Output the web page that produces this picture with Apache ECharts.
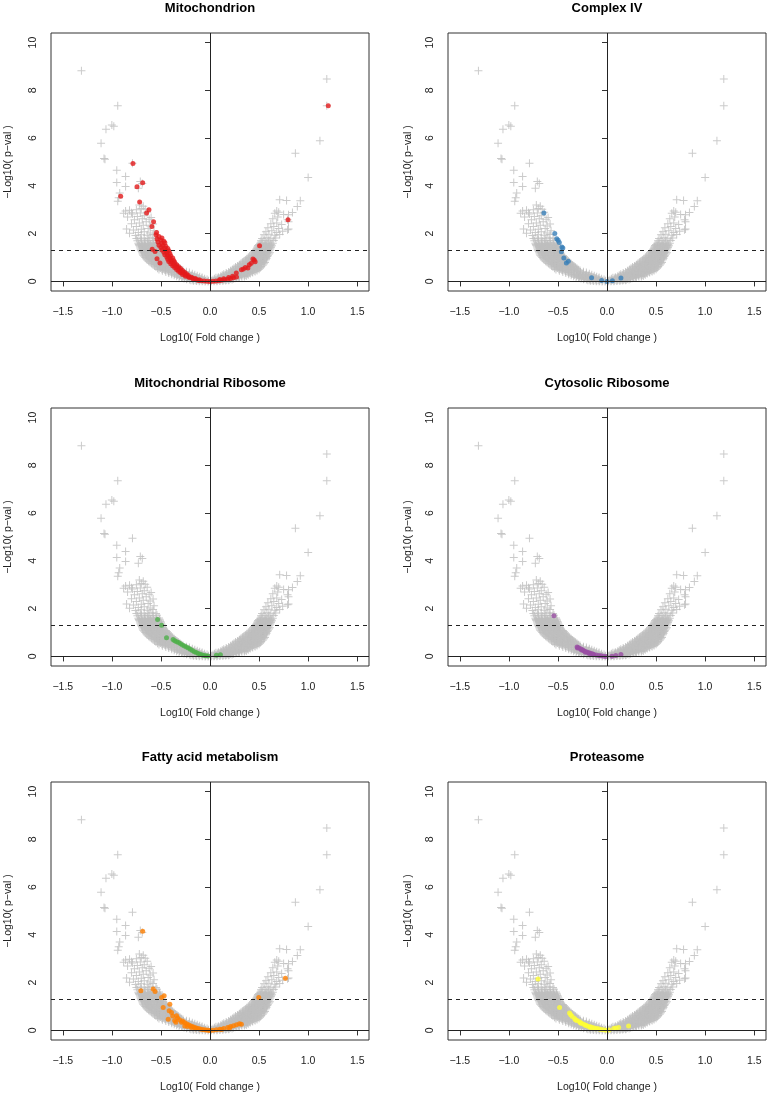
<!DOCTYPE html>
<html><head><meta charset="utf-8">
<script src="https://cdn.jsdelivr.net/npm/echarts@6/dist/echarts.min.js"></script>
<style>html,body{margin:0;padding:0;background:#fff}#c{width:770px;height:1094px}</style>
</head><body><div id="c"></div>
<script>
// ---------------- DATA ----------------
const panelTitles = ['Mitochondrion', 'Complex IV', 'Mitochondrial Ribosome', 'Cytosolic Ribosome', 'Fatty acid metabolism', 'Proteasome'];
const highlightColors = ['#E41A1C', '#377EB8', '#4DAF4A', '#984EA3', '#FF7F00', '#FFFF33'];
const xTicks = [-1.5, -1, -0.5, 0, 0.5, 1, 1.5];
const yTicks = [0, 2, 4, 6, 8, 10];
const pThreshold = 1.3;
const xLabel = 'Log10( Fold change )';
const yLabel = '\u2212Log10( p\u2212val )';

// all proteins (grey crosses), identical in every panel: dense band
const grayBand = [
[-0.17,0.03],[-0.14,0.02],[-0.11,0.01],[-0.08,0.01],[-0.05,0.00],[-0.02,0.00],[0.01,0.00],[0.04,0.01],[0.07,0.01],[0.10,0.02],[0.13,0.03],[0.16,0.04],[0.19,0.05],
[-0.24,0.09],[-0.21,0.08],[-0.18,0.08],[-0.15,0.07],[-0.12,0.07],[-0.09,0.06],[-0.06,0.07],[-0.03,0.08],[0.03,0.07],[0.06,0.06],[0.09,0.07],[0.12,0.08],[0.15,0.08],[0.18,0.09],[0.21,0.10],[0.24,0.11],
[-0.29,0.15],[-0.26,0.14],[-0.23,0.15],[-0.20,0.14],[-0.17,0.15],[-0.14,0.14],[-0.11,0.15],[-0.08,0.16],[0.06,0.15],[0.09,0.14],[0.12,0.15],[0.15,0.14],[0.18,0.15],[0.21,0.16],[0.24,0.15],[0.27,0.17],[0.30,0.18],
[-0.34,0.22],[-0.31,0.23],[-0.28,0.21],[-0.25,0.23],[-0.22,0.22],[-0.19,0.23],[-0.16,0.22],[-0.13,0.24],[0.11,0.22],[0.14,0.23],[0.17,0.21],[0.20,0.23],[0.23,0.22],[0.26,0.23],[0.29,0.22],[0.32,0.24],[0.35,0.25],[0.37,0.23],
[-0.39,0.30],[-0.36,0.31],[-0.33,0.29],[-0.30,0.31],[-0.27,0.30],[-0.24,0.31],[-0.21,0.30],[-0.18,0.32],[0.14,0.30],[0.17,0.31],[0.20,0.29],[0.23,0.31],[0.26,0.30],[0.29,0.31],[0.32,0.30],[0.35,0.32],[0.38,0.31],[0.41,0.33],
[-0.45,0.40],[-0.42,0.41],[-0.39,0.39],[-0.36,0.41],[-0.33,0.40],[-0.30,0.42],[-0.27,0.40],[-0.24,0.41],[0.19,0.40],[0.22,0.41],[0.25,0.39],[0.28,0.41],[0.31,0.40],[0.34,0.42],[0.37,0.40],[0.40,0.41],[0.43,0.40],[0.46,0.42],
[-0.52,0.50],[-0.49,0.51],[-0.46,0.49],[-0.43,0.51],[-0.40,0.50],[-0.37,0.52],[-0.34,0.50],[-0.31,0.51],[-0.29,0.49],[0.23,0.50],[0.26,0.51],[0.29,0.49],[0.32,0.51],[0.35,0.50],[0.38,0.52],[0.41,0.50],[0.44,0.51],[0.47,0.49],[0.50,0.51],
[-0.55,0.60],[-0.52,0.61],[-0.49,0.59],[-0.46,0.61],[-0.43,0.60],[-0.40,0.62],[-0.37,0.60],[-0.34,0.61],[-0.32,0.59],[0.26,0.60],[0.29,0.61],[0.32,0.59],[0.35,0.61],[0.38,0.60],[0.41,0.62],[0.44,0.60],[0.47,0.61],[0.50,0.59],[0.52,0.61],
[-0.58,0.70],[-0.55,0.71],[-0.52,0.69],[-0.49,0.71],[-0.46,0.70],[-0.43,0.72],[-0.40,0.70],[-0.37,0.71],[-0.35,0.69],[0.30,0.70],[0.33,0.71],[0.36,0.69],[0.39,0.71],[0.42,0.70],[0.45,0.72],[0.48,0.70],[0.51,0.71],[0.54,0.69],
[-0.61,0.80],[-0.58,0.81],[-0.55,0.79],[-0.52,0.81],[-0.49,0.80],[-0.46,0.82],[-0.43,0.80],[-0.40,0.81],[-0.38,0.79],[0.33,0.80],[0.36,0.81],[0.39,0.79],[0.42,0.81],[0.45,0.80],[0.48,0.82],[0.51,0.80],[0.54,0.81],[0.56,0.79],
[-0.64,0.90],[-0.61,0.91],[-0.58,0.89],[-0.55,0.91],[-0.52,0.90],[-0.49,0.92],[-0.46,0.90],[-0.43,0.91],[-0.41,0.89],[0.36,0.90],[0.39,0.91],[0.42,0.89],[0.45,0.91],[0.48,0.90],[0.51,0.92],[0.54,0.90],[0.57,0.91],
[-0.66,1.00],[-0.63,1.01],[-0.60,0.99],[-0.57,1.01],[-0.54,1.00],[-0.51,1.02],[-0.48,1.00],[-0.45,1.01],[-0.43,0.99],[0.39,1.00],[0.42,1.01],[0.45,0.99],[0.48,1.01],[0.51,1.00],[0.54,1.02],[0.57,1.00],[0.58,1.03],
[-0.68,1.10],[-0.65,1.11],[-0.62,1.09],[-0.59,1.11],[-0.56,1.10],[-0.53,1.12],[-0.50,1.10],[-0.47,1.11],[-0.45,1.09],[0.42,1.10],[0.45,1.11],[0.48,1.09],[0.51,1.11],[0.54,1.10],[0.57,1.12],[0.59,1.10],
[-0.69,1.20],[-0.66,1.21],[-0.63,1.19],[-0.60,1.21],[-0.57,1.20],[-0.54,1.22],[-0.51,1.20],[-0.48,1.21],[0.44,1.20],[0.47,1.21],[0.50,1.19],[0.53,1.21],[0.56,1.20],[0.59,1.22],[0.61,1.20],
[-0.70,1.30],[-0.67,1.31],[-0.64,1.29],[-0.61,1.31],[-0.58,1.30],[-0.55,1.32],[-0.52,1.30],[-0.49,1.31],[0.46,1.30],[0.49,1.31],[0.52,1.29],[0.55,1.31],[0.58,1.30],[0.61,1.32],
[-0.71,1.40],[-0.68,1.41],[-0.65,1.39],[-0.62,1.41],[-0.59,1.40],[-0.56,1.42],[-0.53,1.40],[-0.50,1.41],[0.48,1.40],[0.51,1.41],[0.54,1.39],[0.57,1.41],[0.60,1.40],[0.62,1.42],
[-0.72,1.50],[-0.69,1.51],[-0.66,1.49],[-0.63,1.51],[-0.60,1.50],[-0.57,1.52],[-0.54,1.50],[-0.51,1.51],[0.49,1.50],[0.52,1.51],[0.55,1.49],[0.58,1.51],[0.61,1.50],[0.63,1.52],
[-0.73,1.60],[-0.70,1.61],[-0.67,1.59],[-0.64,1.61],[-0.61,1.60],[-0.58,1.62],[-0.55,1.60],[-0.52,1.61],[0.51,1.60],[0.54,1.62],[0.57,1.59],[0.60,1.61],[0.64,1.60],
[-0.74,1.70],[-0.70,1.72],[-0.66,1.69],[-0.62,1.71],[-0.58,1.70],[-0.54,1.72],[0.52,1.70],[0.56,1.72],[0.60,1.69],[0.65,1.71],
[-0.75,1.80],[-0.71,1.82],[-0.67,1.79],[-0.63,1.81],[-0.59,1.83],[-0.55,1.80],[0.53,1.80],[0.58,1.83],[0.62,1.79],[0.67,1.82]
];
// grey crosses filling the gaps between the rows of the band
const grayBandFill = [
[-0.195,0.05],[-0.165,0.05],[-0.135,0.04],[-0.105,0.04],[-0.075,0.03],[-0.045,0.03],[-0.015,0.03],[0.015,0.03],[0.045,0.04],[0.075,0.04],[0.105,0.05],[0.135,0.05],[0.165,0.06],[0.195,0.07],[0.225,0.08],
[-0.265,0.12],[-0.235,0.11],[-0.205,0.12],[-0.175,0.11],[-0.145,0.12],[-0.115,0.11],[-0.085,0.12],[-0.055,0.11],[0.045,0.11],[0.075,0.12],[0.105,0.11],[0.135,0.12],[0.165,0.11],[0.195,0.12],[0.225,0.13],[0.255,0.13],[0.285,0.14],
[-0.315,0.18],[-0.285,0.19],[-0.255,0.18],[-0.225,0.19],[-0.195,0.18],[-0.165,0.19],[-0.135,0.18],[-0.105,0.20],[0.085,0.18],[0.115,0.19],[0.145,0.18],[0.175,0.19],[0.205,0.18],[0.235,0.19],[0.265,0.18],[0.295,0.20],[0.325,0.20],[0.35,0.21],
[-0.365,0.26],[-0.335,0.27],[-0.305,0.25],[-0.275,0.27],[-0.245,0.26],[-0.215,0.27],[-0.185,0.26],[-0.155,0.28],[0.125,0.26],[0.155,0.27],[0.185,0.25],[0.215,0.27],[0.245,0.26],[0.275,0.27],[0.305,0.26],[0.335,0.28],[0.365,0.27],[0.39,0.28],
[-0.42,0.35],[-0.39,0.36],[-0.36,0.34],[-0.33,0.36],[-0.30,0.35],[-0.27,0.36],[-0.24,0.35],[-0.21,0.37],[0.165,0.35],[0.195,0.36],[0.225,0.34],[0.255,0.36],[0.285,0.35],[0.315,0.36],[0.345,0.35],[0.375,0.37],[0.405,0.36],[0.435,0.37],
[-0.485,0.45],[-0.455,0.46],[-0.425,0.44],[-0.395,0.46],[-0.365,0.45],[-0.335,0.47],[-0.305,0.45],[-0.275,0.46],[0.21,0.45],[0.24,0.46],[0.27,0.44],[0.30,0.46],[0.33,0.45],[0.36,0.47],[0.39,0.45],[0.42,0.46],[0.45,0.45],[0.48,0.46],
[-0.535,0.55],[-0.505,0.56],[-0.475,0.54],[-0.445,0.56],[-0.415,0.55],[-0.385,0.57],[-0.355,0.55],[-0.325,0.56],[-0.305,0.54],[0.245,0.55],[0.275,0.56],[0.305,0.54],[0.335,0.56],[0.365,0.55],[0.395,0.57],[0.425,0.55],[0.455,0.56],[0.485,0.54],[0.51,0.56],
[-0.565,0.65],[-0.535,0.66],[-0.505,0.64],[-0.475,0.66],[-0.445,0.65],[-0.415,0.67],[-0.385,0.65],[-0.355,0.66],[-0.335,0.64],[0.28,0.65],[0.31,0.66],[0.34,0.64],[0.37,0.66],[0.40,0.65],[0.43,0.67],[0.46,0.65],[0.49,0.66],[0.52,0.64],
[-0.595,0.75],[-0.565,0.76],[-0.535,0.74],[-0.505,0.76],[-0.475,0.75],[-0.445,0.77],[-0.415,0.75],[-0.385,0.76],[-0.365,0.74],[0.315,0.75],[0.345,0.76],[0.375,0.74],[0.405,0.76],[0.435,0.75],[0.465,0.77],[0.495,0.75],[0.525,0.76],[0.55,0.74],
[-0.625,0.85],[-0.595,0.86],[-0.565,0.84],[-0.535,0.86],[-0.505,0.85],[-0.475,0.87],[-0.445,0.85],[-0.415,0.86],[-0.395,0.84],[0.345,0.85],[0.375,0.86],[0.405,0.84],[0.435,0.86],[0.465,0.85],[0.495,0.87],[0.525,0.85],[0.555,0.86],
[-0.65,0.95],[-0.62,0.96],[-0.59,0.94],[-0.56,0.96],[-0.53,0.95],[-0.50,0.97],[-0.47,0.95],[-0.44,0.96],[-0.42,0.94],[0.375,0.95],[0.405,0.96],[0.435,0.94],[0.465,0.96],[0.495,0.95],[0.525,0.97],[0.555,0.95],[0.575,0.96],
[-0.67,1.05],[-0.64,1.06],[-0.61,1.04],[-0.58,1.06],[-0.55,1.05],[-0.52,1.07],[-0.49,1.05],[-0.46,1.06],[-0.44,1.04],[0.405,1.05],[0.435,1.06],[0.465,1.04],[0.495,1.06],[0.525,1.05],[0.555,1.07],[0.585,1.05],
[-0.685,1.15],[-0.655,1.16],[-0.625,1.14],[-0.595,1.16],[-0.565,1.15],[-0.535,1.17],[-0.505,1.15],[-0.475,1.16],[0.43,1.15],[0.46,1.16],[0.49,1.14],[0.52,1.16],[0.55,1.15],[0.58,1.17],[0.60,1.15],
[-0.695,1.25],[-0.665,1.26],[-0.635,1.24],[-0.605,1.26],[-0.575,1.25],[-0.545,1.27],[-0.515,1.25],[-0.485,1.26],[0.45,1.25],[0.48,1.26],[0.51,1.24],[0.54,1.26],[0.57,1.25],[0.60,1.27],
[-0.705,1.35],[-0.675,1.36],[-0.645,1.34],[-0.615,1.36],[-0.585,1.35],[-0.555,1.37],[-0.525,1.35],[-0.495,1.36],[0.47,1.35],[0.50,1.36],[0.53,1.34],[0.56,1.36],[0.59,1.35],[0.615,1.37],
[-0.715,1.45],[-0.685,1.46],[-0.655,1.44],[-0.625,1.46],[-0.595,1.45],[-0.565,1.47],[-0.535,1.45],[-0.505,1.46],[0.485,1.45],[0.515,1.46],[0.545,1.44],[0.575,1.46],[0.605,1.45],[0.625,1.47],
[-0.725,1.55],[-0.695,1.56],[-0.665,1.54],[-0.635,1.56],[-0.605,1.55],[-0.575,1.57],[-0.545,1.55],[-0.515,1.56],[0.50,1.55],[0.53,1.56],[0.56,1.54],[0.59,1.56],[0.62,1.55]
];
// grey crosses scattered above the band
const grayUpper = [
[-0.76,1.92],[-0.70,1.95],[-0.64,1.93],[-0.58,1.97],[-0.82,2.02],[-0.73,2.05],[-0.67,2.08],[-0.61,2.03],[-0.78,2.15],[-0.70,2.18],[-0.63,2.22],[-0.85,2.20],[-0.57,2.12],
[-0.75,2.30],[-0.68,2.35],[-0.61,2.32],[-0.80,2.42],[-0.72,2.45],[-0.65,2.50],[-0.58,2.40],[-0.77,2.58],[-0.69,2.62],[-0.62,2.60],[-0.84,2.70],[-0.74,2.72],[-0.67,2.75],
[-0.60,2.68],[-0.79,2.82],[-0.71,2.86],[-0.64,2.90],[-0.86,2.95],[-0.82,2.98],[-0.75,3.00],[-0.70,3.05],[-0.68,3.15],[-0.72,3.20],[-0.66,3.02],[-0.88,2.85],[-0.80,2.88],
[0.55,1.95],[0.60,1.98],[0.66,1.93],[0.71,1.96],[0.57,2.08],[0.63,2.12],[0.68,2.05],[0.74,2.10],[0.79,2.16],[0.80,2.20],[0.59,2.25],[0.65,2.30],[0.70,2.22],
[0.62,2.42],[0.68,2.45],[0.73,2.38],[0.79,2.58],[0.80,2.50],[0.64,2.62],[0.69,2.70],[0.66,2.85],[0.70,2.90],[0.68,2.95],[0.75,2.80],[0.80,2.79],[0.84,2.89]
];
// isolated grey crosses
const grayOutliers = [
[-0.92,3.70],[-0.93,3.50],[-0.94,3.36],[-0.73,3.90],[-0.71,4.18],[-0.69,4.10],[-0.86,3.97],[-0.95,4.14],[-0.86,4.39],[-0.95,4.65],[-0.79,4.95],
[-1.08,5.15],[-1.07,5.12],[-1.11,5.79],[-1.06,6.37],[-1.00,6.55],[-0.98,6.50],[-0.94,7.35],[-1.31,8.82],
[0.89,3.14],[0.71,3.42],[0.78,3.39],[0.92,3.38],[0.87,5.37],[1.00,4.35],[1.12,5.89],[1.19,7.35],[1.19,8.47]
];

// highlighted protein groups
const mitochondrion = [
[1.205,7.35],[-0.785,4.94],[-0.686,4.13],[-0.744,3.96],[-0.91,3.57],[-0.717,3.33],[-0.622,3.0],[-0.646,2.86],[-0.575,2.5],[-0.592,2.3],[-0.544,2.05],[-0.589,1.35],[-0.51,0.77],[0.795,2.58],[0.505,1.49],
[-0.55,1.95],[-0.52,1.88],[-0.49,1.82],[-0.54,1.78],[-0.50,1.72],[-0.47,1.68],[-0.53,1.65],[-0.49,1.60],[-0.46,1.62],
[-0.52,1.52],[-0.48,1.50],[-0.45,1.47],[-0.50,1.42],[-0.46,1.40],[-0.43,1.38],[-0.49,1.32],[-0.45,1.30],[-0.42,1.28],[-0.47,1.22],[-0.44,1.20],[-0.41,1.18],[-0.56,1.25],
[-0.46,1.12],[-0.43,1.10],[-0.40,1.08],[-0.44,1.02],[-0.41,1.00],[-0.38,0.98],[-0.43,0.93],[-0.40,0.90],[-0.37,0.88],[-0.42,0.84],[-0.39,0.82],[-0.36,0.80],[-0.54,0.95],
[-0.40,0.74],[-0.37,0.72],[-0.34,0.70],[-0.38,0.66],[-0.35,0.64],[-0.32,0.62],[-0.36,0.58],[-0.33,0.56],[-0.30,0.54],[-0.34,0.50],[-0.31,0.48],[-0.28,0.46],
[-0.32,0.43],[-0.29,0.41],[-0.26,0.39],[-0.30,0.36],[-0.27,0.34],[-0.24,0.32],[-0.28,0.29],[-0.25,0.27],[-0.22,0.25],[-0.25,0.22],[-0.22,0.20],[-0.19,0.18],
[-0.21,0.16],[-0.18,0.14],[-0.15,0.12],[-0.17,0.10],[-0.14,0.08],[-0.11,0.07],[-0.12,0.04],[-0.09,0.03],[-0.06,0.02],[-0.03,0.01],[0.00,0.00],[0.03,0.01],
[0.06,0.02],[0.09,0.03],[0.12,0.05],[0.15,0.07],[0.18,0.09],[0.21,0.12],[0.24,0.15],[0.27,0.19],[0.10,0.08],[0.14,0.11],[0.19,0.16],[0.23,0.22],
[0.268,0.35],[0.32,0.49],[0.34,0.52],[0.386,0.56],[0.40,0.70],[0.42,0.76],[0.437,0.94],[0.45,0.90],[0.46,0.82],[0.36,0.58]
];
const complexIV = [
[-0.643,2.86],[-0.532,2.01],[-0.512,1.79],[-0.498,1.72],[-0.486,1.63],[-0.46,1.44],[-0.45,1.40],[-0.465,1.24],[-0.44,0.98],[-0.414,0.77],[-0.394,0.85],
[-0.157,0.15],[-0.055,0.04],[0.0,0.0],[0.055,0.03],[0.142,0.14]
];
const mitoRibosome = [
[-0.534,1.55],[-0.493,1.31],[-0.443,0.78],[-0.376,0.71],[-0.36,0.66],[-0.34,0.62],[-0.32,0.58],[-0.30,0.53],[-0.28,0.48],[-0.26,0.44],[-0.24,0.40],
[-0.22,0.35],[-0.20,0.30],[-0.18,0.25],[-0.16,0.20],[-0.14,0.16],[-0.12,0.12],[-0.10,0.09],[-0.08,0.06],[-0.06,0.04],[-0.04,0.03],[-0.02,0.02],[0.065,0.05],[0.106,0.07]
];
const cytoRibosome = [
[-0.541,1.70],[-0.305,0.40],[-0.29,0.36],[-0.27,0.32],[-0.25,0.28],[-0.237,0.24],[-0.22,0.21],[-0.20,0.18],[-0.186,0.15],[-0.17,0.13],[-0.15,0.11],
[-0.135,0.08],[-0.11,0.06],[-0.084,0.04],[-0.06,0.03],[-0.034,0.01],[-0.01,0.00],[0.05,0.01],[0.09,0.04],[0.142,0.08],
[-0.30,0.35],[-0.26,0.27],[-0.22,0.18],[-0.18,0.12],[-0.14,0.07]
];
const fattyAcid = [
[-0.686,4.15],[-0.704,1.66],[-0.579,1.73],[-0.56,1.63],[-0.493,1.38],[-0.467,1.45],[-0.477,0.96],[-0.409,1.10],[-0.416,0.82],[-0.392,0.75],[-0.426,0.47],
[-0.341,0.61],[-0.348,0.34],[-0.29,0.34],[-0.257,0.19],[0.497,1.38],[0.768,2.19],
[-0.31,0.45],[-0.28,0.40],[-0.26,0.33],[-0.24,0.28],[-0.22,0.24],[-0.20,0.20],[-0.18,0.16],[-0.16,0.13],[-0.14,0.10],[-0.12,0.08],[-0.10,0.06],[-0.08,0.04],
[-0.06,0.03],[-0.04,0.02],[-0.02,0.01],[0.00,0.00],[-0.23,0.17],[-0.19,0.12],[-0.15,0.07],[-0.33,0.52],[-0.38,0.60],[-0.36,0.42],
[0.03,0.01],[0.065,0.03],[0.10,0.05],[0.14,0.08],[0.18,0.12],[0.21,0.16],[0.24,0.20],[0.27,0.24],[0.30,0.28],[0.32,0.26],[0.12,0.04],[0.20,0.10]
];
const proteasome = [
[-0.703,2.15],[-0.483,0.96],[-0.382,0.73],[-0.37,0.66],[-0.355,0.58],[-0.33,0.50],[-0.305,0.42],[-0.28,0.36],[-0.26,0.30],[-0.237,0.26],[-0.21,0.21],
[-0.19,0.17],[-0.169,0.15],[-0.15,0.12],[-0.13,0.10],[-0.10,0.08],[-0.08,0.06],[-0.06,0.04],[-0.034,0.03],[-0.01,0.01],[0.02,0.02],[0.068,0.08],[0.09,0.10],
[0.119,0.12],[0.22,0.19],[-0.32,0.44],[-0.27,0.31],[-0.22,0.22],[-0.17,0.12],[-0.12,0.07]
];
const highlightSets = [mitochondrion, complexIV, mitoRibosome, cytoRibosome, fattyAcid, proteasome];

// ---------------- LAYOUT ----------------
const FONT = '"Liberation Sans", Arial, Helvetica, sans-serif';
const gridPos = [[51,33],[448,33],[51,408],[448,408],[51,782],[448,782]];
const GW = 318, GH = 258;
const crossPath = 'path://M3.5,0h1v8h-1zM0,3.5h8v1h-8z';
const fmtX = v => (v < 0 ? '\u2212' : '') + Math.abs(v).toFixed(1);

const grayAll = grayBand.concat(grayBandFill, grayUpper, grayOutliers);
const grid = [], xAxis = [], yAxis = [], series = [], title = [];
panelTitles.forEach((name, i) => {
  const [l, t] = gridPos[i];
  grid.push({left: l, top: t, width: GW, height: GH, show: true, borderColor: '#333', borderWidth: 1, backgroundColor: 'transparent'});
  title.push({text: name, left: l + GW / 2, top: t - 31, textAlign: 'center', padding: 0,
    textStyle: {fontSize: 13, fontWeight: 'bold', fontFamily: FONT, color: '#000'}});
  xAxis.push({gridIndex: i, type: 'value', min: -1.62, max: 1.62,
    name: xLabel, nameLocation: 'middle', nameGap: 42,
    nameTextStyle: {fontSize: 10.5, fontFamily: FONT, color: '#222'},
    axisLine: {show: false}, splitLine: {show: false},
    axisTick: {show: true, inside: false, length: 5, customValues: xTicks, lineStyle: {color: '#333'}},
    axisLabel: {customValues: xTicks, formatter: fmtX, margin: 16, fontSize: 10.5, fontFamily: FONT, color: '#222'}});
  yAxis.push({gridIndex: i, type: 'value', min: -0.4, max: 10.4,
    name: yLabel, nameLocation: 'middle', nameGap: (i % 2 === 0) ? 37 : 34,
    nameTextStyle: {fontSize: 10.5, fontFamily: FONT, color: '#222'},
    axisLine: {show: false}, splitLine: {show: false},
    axisTick: {show: true, inside: false, length: 5, customValues: yTicks, lineStyle: {color: '#333'}},
    axisLabel: {customValues: yTicks, rotate: 90, margin: 12, fontSize: 10.5, fontFamily: FONT, color: '#222'}});
  series.push({type: 'scatter', xAxisIndex: i, yAxisIndex: i, data: grayAll, symbol: crossPath, symbolSize: 8,
    itemStyle: {color: '#BEBEBE'}, silent: true, z: 2, large: false, progressive: 0});
  series.push({type: 'scatter', xAxisIndex: i, yAxisIndex: i, data: highlightSets[i], symbol: 'circle', symbolSize: 5,
    itemStyle: {color: highlightColors[i]}, silent: true, z: 3,
    markLine: {silent: true, symbol: 'none', label: {show: false}, animation: false,
      lineStyle: {color: '#222', width: 1, type: 'solid'},
      data: [{yAxis: 0}, {xAxis: 0}, {yAxis: pThreshold, lineStyle: {type: [4, 4], color: '#222', width: 1}}]}});
});

const chart = echarts.init(document.getElementById('c'), null, {renderer: 'canvas'});
chart.setOption({animation: false, backgroundColor: '#fff', title, grid, xAxis, yAxis, series});
</script></body></html>
